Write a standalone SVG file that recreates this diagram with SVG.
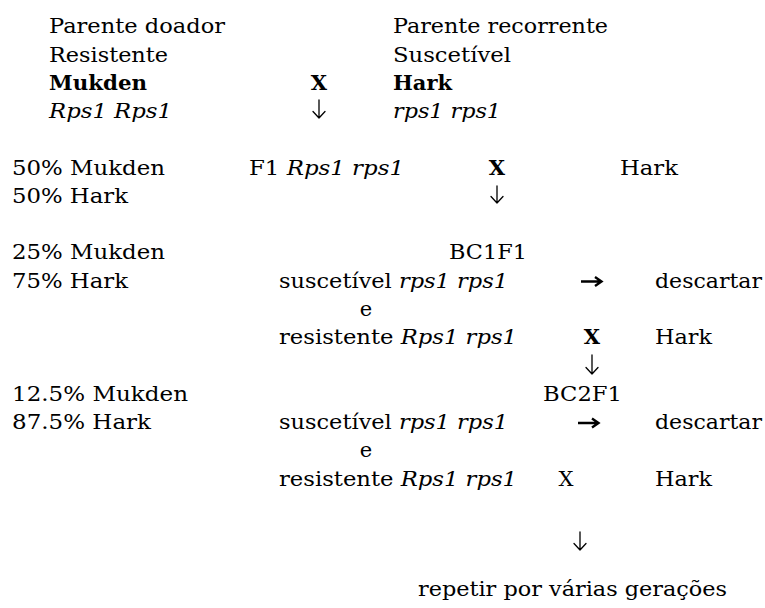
<svg xmlns="http://www.w3.org/2000/svg" width="765" height="608" viewBox="0 0 765 608">
<style>
text{font-family:"DejaVu Serif","Liberation Serif",serif;font-size:21px;fill:#000}
.b{font-weight:bold}
.i{font-style:italic}
.dn{fill:none;stroke:#000;stroke-width:1.3;stroke-linecap:round;stroke-linejoin:round}
.rt{fill:none;stroke:#000;stroke-width:2.4;stroke-linejoin:miter}
</style>
<rect width="765" height="608" fill="#fff"/>
<g id="donor">
<text x="49" y="33" textLength="176" lengthAdjust="spacingAndGlyphs">Parente doador</text>
<text x="49" y="61.5" textLength="119" lengthAdjust="spacingAndGlyphs">Resistente</text>
<text x="49" y="90" class="b" textLength="98" lengthAdjust="spacingAndGlyphs">Mukden</text>
<text x="49" y="118" class="i" textLength="123" lengthAdjust="spacingAndGlyphs">Rps1 Rps1</text>
</g>
<g id="cross1">
<text x="319" y="90" class="b" text-anchor="middle">X</text>
</g>
<g id="recurrent">
<text x="393" y="33" textLength="215" lengthAdjust="spacingAndGlyphs">Parente recorrente</text>
<text x="393" y="61.5" textLength="118" lengthAdjust="spacingAndGlyphs">Suscetível</text>
<text x="393" y="90" class="b" textLength="59" lengthAdjust="spacingAndGlyphs">Hark</text>
<text x="393" y="118" class="i" textLength="108" lengthAdjust="spacingAndGlyphs">rps1 rps1</text>
</g>
<g id="f1">
<text x="12" y="174.5" textLength="153" lengthAdjust="spacingAndGlyphs">50% Mukden</text>
<text x="12" y="203" textLength="116" lengthAdjust="spacingAndGlyphs">50% Hark</text>
<text x="249" y="174.5" textLength="155" lengthAdjust="spacingAndGlyphs">F1 <tspan class="i">Rps1 rps1</tspan></text>
<text x="497" y="174.5" class="b" text-anchor="middle">X</text>
<text x="620" y="174.5" textLength="58" lengthAdjust="spacingAndGlyphs">Hark</text>
</g>
<g id="bc1f1">
<text x="12" y="259" textLength="153" lengthAdjust="spacingAndGlyphs">25% Mukden</text>
<text x="12" y="287.5" textLength="116" lengthAdjust="spacingAndGlyphs">75% Hark</text>
<text x="449" y="259" textLength="78" lengthAdjust="spacingAndGlyphs">BC1F1</text>
<text x="279" y="287.5" textLength="229" lengthAdjust="spacingAndGlyphs">suscetível <tspan class="i">rps1 rps1</tspan></text>
<text x="655" y="287.5" textLength="107" lengthAdjust="spacingAndGlyphs">descartar</text>
<text x="366" y="316" text-anchor="middle">e</text>
<text x="279" y="344" textLength="238" lengthAdjust="spacingAndGlyphs">resistente <tspan class="i">Rps1 rps1</tspan></text>
<text x="592" y="344" class="b" text-anchor="middle">X</text>
<text x="655" y="344" textLength="57" lengthAdjust="spacingAndGlyphs">Hark</text>
</g>
<g id="bc2f1">
<text x="12" y="400.5" textLength="176" lengthAdjust="spacingAndGlyphs">12.5% Mukden</text>
<text x="12" y="429" textLength="139" lengthAdjust="spacingAndGlyphs">87.5% Hark</text>
<text x="543" y="400.5" textLength="79" lengthAdjust="spacingAndGlyphs">BC2F1</text>
<text x="279" y="429" textLength="229" lengthAdjust="spacingAndGlyphs">suscetível <tspan class="i">rps1 rps1</tspan></text>
<text x="655" y="429" textLength="107" lengthAdjust="spacingAndGlyphs">descartar</text>
<text x="366" y="457" text-anchor="middle">e</text>
<text x="279" y="485.5" textLength="238" lengthAdjust="spacingAndGlyphs">resistente <tspan class="i">Rps1 rps1</tspan></text>
<text x="566" y="485.5" text-anchor="middle">X</text>
<text x="655" y="485.5" textLength="57" lengthAdjust="spacingAndGlyphs">Hark</text>
</g>
<g id="final">
<text x="418" y="596" textLength="309" lengthAdjust="spacingAndGlyphs">repetir por várias gerações</text>
</g>
<g id="connectors">
<path class="dn" d="M319 100V118M313 111.5L319 118L325 111.5"/>
<path class="dn" d="M497 186V203M491 196.5L497 203L503 196.5"/>
<path class="dn" d="M592 355V374M586 367.5L592 374L598 367.5"/>
<path class="dn" d="M580 532V550M574 543.5L580 550L586 543.5"/>
<path class="rt" d="M581 281.5H601M595 277L601.5 281.5L595 286"/>
<path class="rt" d="M578 423H598M592 418.5L598.5 423L592 427.5"/>
</g>
</svg>
